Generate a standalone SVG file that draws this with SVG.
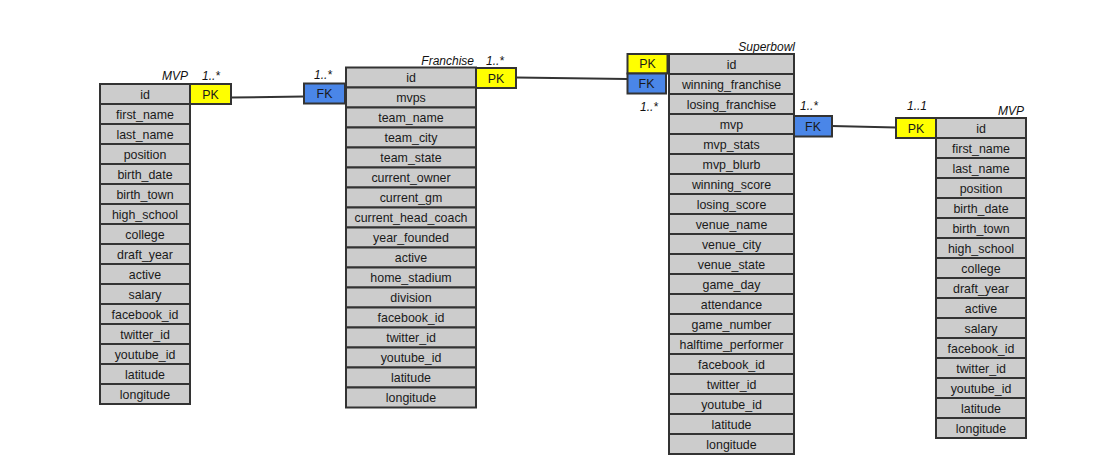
<svg xmlns="http://www.w3.org/2000/svg" width="1104" height="474" viewBox="0 0 1104 474">
<style>
.c{fill:#cccccc;stroke:#333333;stroke-width:2}
.pk{fill:#ffff00;stroke:#333333;stroke-width:2}
.fk{fill:#4a86e8;stroke:#333333;stroke-width:2}
.t{font-family:"Liberation Sans",Arial,sans-serif;font-size:12.4px;fill:#1a1a1a;text-anchor:middle}
.l{font-family:"Liberation Sans",Arial,sans-serif;font-size:12px;font-style:italic;fill:#111111}
.e{text-anchor:end}
.ln{stroke:#333333;stroke-width:2;fill:none}
</style>
<rect width="1104" height="474" fill="#ffffff"/>
<g id="connectors">
<line class="ln" x1="231" y1="97.5" x2="304" y2="96.5"/>
<line class="ln" x1="516" y1="77.5" x2="627" y2="79"/>
<line class="ln" x1="832" y1="126" x2="896" y2="127.5"/>
</g>
<g id="mvp-left">
<text class="l e" x="188" y="80">MVP</text>
<text class="l" x="202" y="80">1..*</text>
<rect class="c" x="100" y="84" width="90" height="20"/><text class="t" x="145" y="98.5">id</text>
<rect class="c" x="100" y="104" width="90" height="20"/><text class="t" x="145" y="118.5">first_name</text>
<rect class="c" x="100" y="124" width="90" height="20"/><text class="t" x="145" y="138.5">last_name</text>
<rect class="c" x="100" y="144" width="90" height="20"/><text class="t" x="145" y="158.5">position</text>
<rect class="c" x="100" y="164" width="90" height="20"/><text class="t" x="145" y="178.5">birth_date</text>
<rect class="c" x="100" y="184" width="90" height="20"/><text class="t" x="145" y="198.5">birth_town</text>
<rect class="c" x="100" y="204" width="90" height="20"/><text class="t" x="145" y="218.5">high_school</text>
<rect class="c" x="100" y="224" width="90" height="20"/><text class="t" x="145" y="238.5">college</text>
<rect class="c" x="100" y="244" width="90" height="20"/><text class="t" x="145" y="258.5">draft_year</text>
<rect class="c" x="100" y="264" width="90" height="20"/><text class="t" x="145" y="278.5">active</text>
<rect class="c" x="100" y="284" width="90" height="20"/><text class="t" x="145" y="298.5">salary</text>
<rect class="c" x="100" y="304" width="90" height="20"/><text class="t" x="145" y="318.5">facebook_id</text>
<rect class="c" x="100" y="324" width="90" height="20"/><text class="t" x="145" y="338.5">twitter_id</text>
<rect class="c" x="100" y="344" width="90" height="20"/><text class="t" x="145" y="358.5">youtube_id</text>
<rect class="c" x="100" y="364" width="90" height="20"/><text class="t" x="145" y="378.5">latitude</text>
<rect class="c" x="100" y="384" width="90" height="20"/><text class="t" x="145" y="398.5">longitude</text>
<rect class="pk" x="190" y="84" width="41" height="20"/><text class="t" x="210.5" y="98.5">PK</text>
</g>
<g id="franchise">
<text class="l e" x="474" y="65">Franchise</text>
<text class="l" x="486" y="65">1..*</text>
<text class="l" x="314" y="79">1..*</text>
<rect class="fk" x="304" y="83.5" width="41" height="20"/><text class="t" x="324.5" y="98">FK</text>
<rect class="c" x="346" y="67.5" width="130" height="20"/><text class="t" x="411" y="82">id</text>
<rect class="c" x="346" y="87.5" width="130" height="20"/><text class="t" x="411" y="102">mvps</text>
<rect class="c" x="346" y="107.5" width="130" height="20"/><text class="t" x="411" y="122">team_name</text>
<rect class="c" x="346" y="127.5" width="130" height="20"/><text class="t" x="411" y="142">team_city</text>
<rect class="c" x="346" y="147.5" width="130" height="20"/><text class="t" x="411" y="162">team_state</text>
<rect class="c" x="346" y="167.5" width="130" height="20"/><text class="t" x="411" y="182">current_owner</text>
<rect class="c" x="346" y="187.5" width="130" height="20"/><text class="t" x="411" y="202">current_gm</text>
<rect class="c" x="346" y="207.5" width="130" height="20"/><text class="t" x="411" y="222">current_head_coach</text>
<rect class="c" x="346" y="227.5" width="130" height="20"/><text class="t" x="411" y="242">year_founded</text>
<rect class="c" x="346" y="247.5" width="130" height="20"/><text class="t" x="411" y="262">active</text>
<rect class="c" x="346" y="267.5" width="130" height="20"/><text class="t" x="411" y="282">home_stadium</text>
<rect class="c" x="346" y="287.5" width="130" height="20"/><text class="t" x="411" y="302">division</text>
<rect class="c" x="346" y="307.5" width="130" height="20"/><text class="t" x="411" y="322">facebook_id</text>
<rect class="c" x="346" y="327.5" width="130" height="20"/><text class="t" x="411" y="342">twitter_id</text>
<rect class="c" x="346" y="347.5" width="130" height="20"/><text class="t" x="411" y="362">youtube_id</text>
<rect class="c" x="346" y="367.5" width="130" height="20"/><text class="t" x="411" y="382">latitude</text>
<rect class="c" x="346" y="387.5" width="130" height="20"/><text class="t" x="411" y="402">longitude</text>
<rect class="pk" x="476" y="68" width="40" height="20"/><text class="t" x="496" y="82.5">PK</text>
</g>
<g id="superbowl">
<text class="l e" x="795" y="51">Superbowl</text>
<text class="l" x="640" y="111">1..*</text>
<text class="l" x="800" y="110">1..*</text>
<rect class="pk" x="627.5" y="54" width="40" height="19.5"/><text class="t" x="647.5" y="68">PK</text>
<rect class="fk" x="627.5" y="73.5" width="38.5" height="20"/><text class="t" x="646.5" y="88">FK</text>
<rect class="c" x="669" y="54" width="125" height="20"/><text class="t" x="731.5" y="68.5">id</text>
<rect class="c" x="669" y="74" width="125" height="20"/><text class="t" x="731.5" y="88.5">winning_franchise</text>
<rect class="c" x="669" y="94" width="125" height="20"/><text class="t" x="731.5" y="108.5">losing_franchise</text>
<rect class="c" x="669" y="114" width="125" height="20"/><text class="t" x="731.5" y="128.5">mvp</text>
<rect class="c" x="669" y="134" width="125" height="20"/><text class="t" x="731.5" y="148.5">mvp_stats</text>
<rect class="c" x="669" y="154" width="125" height="20"/><text class="t" x="731.5" y="168.5">mvp_blurb</text>
<rect class="c" x="669" y="174" width="125" height="20"/><text class="t" x="731.5" y="188.5">winning_score</text>
<rect class="c" x="669" y="194" width="125" height="20"/><text class="t" x="731.5" y="208.5">losing_score</text>
<rect class="c" x="669" y="214" width="125" height="20"/><text class="t" x="731.5" y="228.5">venue_name</text>
<rect class="c" x="669" y="234" width="125" height="20"/><text class="t" x="731.5" y="248.5">venue_city</text>
<rect class="c" x="669" y="254" width="125" height="20"/><text class="t" x="731.5" y="268.5">venue_state</text>
<rect class="c" x="669" y="274" width="125" height="20"/><text class="t" x="731.5" y="288.5">game_day</text>
<rect class="c" x="669" y="294" width="125" height="20"/><text class="t" x="731.5" y="308.5">attendance</text>
<rect class="c" x="669" y="314" width="125" height="20"/><text class="t" x="731.5" y="328.5">game_number</text>
<rect class="c" x="669" y="334" width="125" height="20"/><text class="t" x="731.5" y="348.5">halftime_performer</text>
<rect class="c" x="669" y="354" width="125" height="20"/><text class="t" x="731.5" y="368.5">facebook_id</text>
<rect class="c" x="669" y="374" width="125" height="20"/><text class="t" x="731.5" y="388.5">twitter_id</text>
<rect class="c" x="669" y="394" width="125" height="20"/><text class="t" x="731.5" y="408.5">youtube_id</text>
<rect class="c" x="669" y="414" width="125" height="20"/><text class="t" x="731.5" y="428.5">latitude</text>
<rect class="c" x="669" y="434" width="125" height="20"/><text class="t" x="731.5" y="448.5">longitude</text>
<rect class="fk" x="794" y="116" width="38" height="20.5"/><text class="t" x="813" y="130.5">FK</text>
</g>
<g id="mvp-right">
<text class="l" x="907" y="110">1..1</text>
<text class="l e" x="1024" y="115">MVP</text>
<rect class="pk" x="896" y="118" width="40" height="20"/><text class="t" x="916" y="132.5">PK</text>
<rect class="c" x="936" y="118" width="90" height="20"/><text class="t" x="981" y="132.5">id</text>
<rect class="c" x="936" y="138" width="90" height="20"/><text class="t" x="981" y="152.5">first_name</text>
<rect class="c" x="936" y="158" width="90" height="20"/><text class="t" x="981" y="172.5">last_name</text>
<rect class="c" x="936" y="178" width="90" height="20"/><text class="t" x="981" y="192.5">position</text>
<rect class="c" x="936" y="198" width="90" height="20"/><text class="t" x="981" y="212.5">birth_date</text>
<rect class="c" x="936" y="218" width="90" height="20"/><text class="t" x="981" y="232.5">birth_town</text>
<rect class="c" x="936" y="238" width="90" height="20"/><text class="t" x="981" y="252.5">high_school</text>
<rect class="c" x="936" y="258" width="90" height="20"/><text class="t" x="981" y="272.5">college</text>
<rect class="c" x="936" y="278" width="90" height="20"/><text class="t" x="981" y="292.5">draft_year</text>
<rect class="c" x="936" y="298" width="90" height="20"/><text class="t" x="981" y="312.5">active</text>
<rect class="c" x="936" y="318" width="90" height="20"/><text class="t" x="981" y="332.5">salary</text>
<rect class="c" x="936" y="338" width="90" height="20"/><text class="t" x="981" y="352.5">facebook_id</text>
<rect class="c" x="936" y="358" width="90" height="20"/><text class="t" x="981" y="372.5">twitter_id</text>
<rect class="c" x="936" y="378" width="90" height="20"/><text class="t" x="981" y="392.5">youtube_id</text>
<rect class="c" x="936" y="398" width="90" height="20"/><text class="t" x="981" y="412.5">latitude</text>
<rect class="c" x="936" y="418" width="90" height="20"/><text class="t" x="981" y="432.5">longitude</text>
</g>
</svg>
